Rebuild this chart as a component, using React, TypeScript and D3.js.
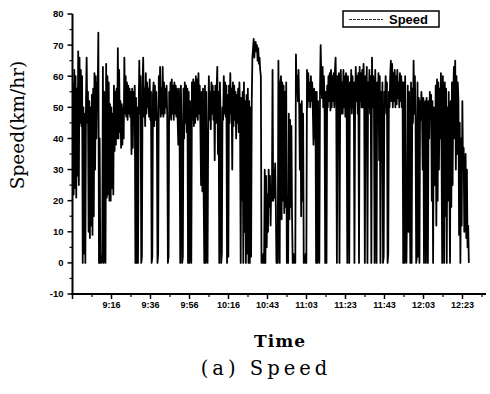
import React from "react";
import * as d3 from "d3";

// Speed samples (km/hr), in order of time (one value per sample)
const speed09 = [58,22,62,24,60,21,56,28,68,25,66,45,62,44,60,0,50,3,48,0, 52,66,45,55,10,52,8,50,12,54,9,56,15,61,30,60,40,58,55,74, 0,40,0,2,0,3,63,0,55,2,0,64,21,60,22,58,20,51,20,50, 24,48,22,57,36,55,38,56,40,69,40,62,42,52,37,51,38,50,40,66, 48,60,47,58,46,57,48,56,47,55,35,56,37,55,49,57,0,53,0,50];
const speed09b = [0,48,65,48,60,0,2,57,66,47,56,44,61,48,58,50,56,47,59,46, 55,0,2,54,58,44,57,46,55,48,0,3,60,50,63,47,56,48,63,47, 58,48,56,50,57,47,0,2,55,47,58,46,59,48,57,46,58,48,57,47, 56,46,38,56,40,0,57,45,0,2,56,40,58,45,57,42,56,0,55,0, 52,3,0,58,46,59,44,58,45,60,47,59,46,61,48,57,44,25,55,23];
const speed10 = [56,22,0,57,0,55,2,0,42,60,46,55,43,58,48,57,46,55,33,57, 45,56,63,35,55,0,58,48,0,3,50,46,60,48,58,47,57,0,54,2, 57,45,61,48,56,30,58,44,57,46,55,40,54,45,56,42,58,47,0,53, 20,55,0,58,10,52,0,54,3,56,0,52,0,50,2,52,66,69,72,66, 70,71,68,70,65,69,64,66,62,60,0,2,0,3,0,30,0,28,5,22];
const speed10b = [10,30,18,28,12,25,20,62,20,30,21,32,19,0,5,0,65,30,0,58, 60,14,58,20,57,16,55,18,58,0,3,0,48,14,46,18,44,15,0,3, 0,2,0,67,55,60,52,62,50,30,51,15,52,20,48,0,2,0,3,0, 62,50,61,52,58,50,60,52,58,49,38,56,40,55,0,55,0,52,3,0, 55,70,60,53,63,50,60,52,0,55,0,57,50,60,52,61,49,62,50,60];
const speed11 = [52,61,50,62,66,52,0,60,45,61,0,50,62,48,58,48,62,50,60,47, 61,50,0,60,48,0,58,50,62,48,60,50,58,0,50,63,52,60,48,61, 0,63,52,61,50,62,50,64,52,0,60,51,63,0,58,50,62,48,60,0, 66,50,60,52,0,62,48,0,58,50,61,33,60,0,55,40,58,0,2,55, 50,60,48,58,0,3,55,50,60,65,52,64,50,61,52,62,50,60,51,62];
const speed12 = [53,58,50,61,52,60,50,58,0,58,0,60,2,0,20,57,10,55,25,0, 58,0,56,45,65,48,60,46,0,2,58,2,53,0,52,46,55,48,30,53, 0,50,52,0,53,45,0,52,40,55,48,54,20,52,0,50,45,25,57,12, 59,20,58,30,56,40,61,35,0,60,45,0,58,15,56,0,50,20,55,30, 0,52,18,58,25,54,63,40,65,30,60,35,58,52,9,45,0,40,12,52, 30,37,10,25,35,8,30,5,12,0];
const speed = [...speed09, ...speed09b, ...speed10, ...speed10b, ...speed11, ...speed12];

const xTickIdx = [60, 120, 180, 240, 300, 360, 420, 480, 540, 600];
const xTickLabels = ["9:16", "9:36", "9:56", "10:16", "10:43", "11:03", "11:23", "11:43", "12:03", "12:23"];
const yTicks = [-10, 0, 10, 20, 30, 40, 50, 60, 70, 80];
const seriesName = "Speed";

export default function App() {
  const W = 490, H = 394;
  const x0 = 72.5, yTop = 14, yBot = 294;
  const x = d3.scaleLinear().domain([0, 1]).range([73, 73.65]);
  const xMaxIdx = x.invert(486);
  const y = d3.scaleLinear().domain([-10, 80]).range([yBot, yTop]);
  const line = d3.line<number>().x((_, i) => x(i)).y((d) => y(d));
  const minorY = d3.range(-5, 80, 10);
  const minorX = d3.range(30, xMaxIdx, 60);
  const sans = "'Liberation Sans', Arial, sans-serif";
  const serif = "'DejaVu Serif', serif";
  return (
    <svg width={W} height={H} style={{ position: "absolute", left: 0, top: 0, background: "#fff" }}>
      <path d={line(speed) || ""} fill="none" stroke="#000" strokeWidth={1.8} strokeLinejoin="round" />
      {/* axes */}
      <line x1={x0} x2={x0} y1={yTop} y2={yBot + 1} stroke="#000" strokeWidth={2} />
      <line x1={x0 - 1} x2={x(xMaxIdx)} y1={yBot} y2={yBot} stroke="#000" strokeWidth={2} />
      {yTicks.map((t) => (
        <g key={"yt" + t}>
          <line x1={x0 - 5} x2={x0} y1={y(t)} y2={y(t)} stroke="#000" strokeWidth={1.5} />
          <text x={x0 - 9} y={y(t) + 3.4} textAnchor="end" fontFamily={sans} fontWeight="bold" fontSize={9.5}>{t}</text>
        </g>
      ))}
      {minorY.map((t) => (
        <line key={"ym" + t} x1={x0 - 3} x2={x0} y1={y(t)} y2={y(t)} stroke="#000" strokeWidth={1.2} />
      ))}
      <line x1={x0} x2={x0} y1={yBot} y2={yBot + 5} stroke="#000" strokeWidth={1.5} />
      {xTickIdx.map((t, i) => (
        <g key={"xt" + t}>
          <line x1={x(t) - 0.5} x2={x(t) - 0.5} y1={yBot} y2={yBot + 5} stroke="#000" strokeWidth={1.5} />
          <text x={x(t) - 0.5} y={yBot + 14} textAnchor="middle" fontFamily={sans} fontWeight="bold" fontSize={9}>{xTickLabels[i]}</text>
        </g>
      ))}
      {minorX.map((t) => (
        <line key={"xm" + t} x1={x(t) - 0.5} x2={x(t) - 0.5} y1={yBot} y2={yBot + 3} stroke="#000" strokeWidth={1.2} />
      ))}
      {/* legend */}
      <rect x={343} y={11} width={96} height={16} fill="#fff" stroke="#000" strokeWidth={1.5} />
      <line x1={349} x2={383} y1={19.5} y2={19.5} stroke="#333" strokeWidth={1} strokeDasharray="3,1" />
      <text x={389} y={24} fontFamily={sans} fontWeight="bold" fontSize={13}>{seriesName}</text>
      {/* titles */}
      <text transform="translate(24,125) rotate(-90)" textAnchor="middle" fontFamily={serif} fontSize={18.5}>Speed(km/hr)</text>
      <text x={280} y={347} textAnchor="middle" fontFamily={serif} fontWeight="bold" fontSize={17} letterSpacing={1}>Time</text>
      <text x={266} y={375} textAnchor="middle" fontFamily={serif} fontSize={19.5} letterSpacing={4}>(a) Speed</text>
    </svg>
  );
}
